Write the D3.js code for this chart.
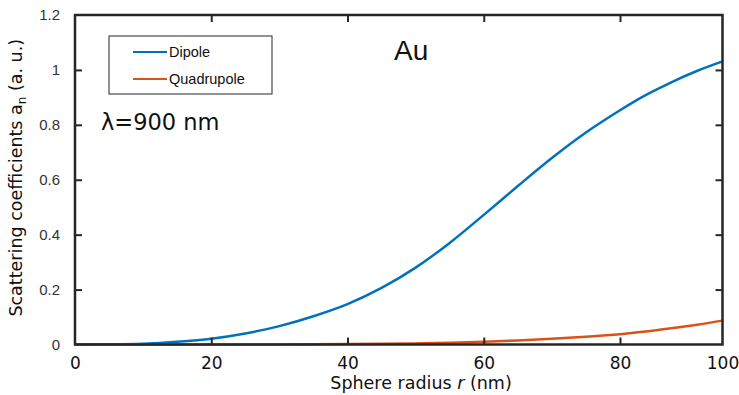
<!DOCTYPE html>
<html>
<head>
<meta charset="utf-8">
<script src="https://cdn.jsdelivr.net/npm/d3@7"></script>
<style>
  body { margin: 0; background: #fff; }
  svg { display: block; }
</style>
</head>
<body>
<script>
// chart data
const radius = [0, 5, 10, 15, 20, 25, 30, 35, 40, 45, 50, 55, 60, 65, 70, 75, 80, 85, 90, 95, 100];
const dipole = [0, 0.0005, 0.003, 0.01, 0.021, 0.04, 0.067, 0.103, 0.147, 0.206, 0.28, 0.37, 0.472, 0.577, 0.679, 0.772, 0.853, 0.908, 0.955, 0.996, 1.031];
const quadrupole = [0, 0, 0, 0, 0.0001, 0.0002, 0.0004, 0.0008, 0.0015, 0.0025, 0.004, 0.0065, 0.01, 0.015, 0.021, 0.028, 0.037, 0.047, 0.059, 0.072, 0.087];
const seriesNames = ['Dipole', 'Quadrupole'];
const seriesColors = ['#0072BD', '#D95319'];
const xTicks = [0, 20, 40, 60, 80, 100];
const yTicks = [0, 0.2, 0.4, 0.6, 0.8, 1, 1.2];

const W = 739, H = 395;
const margin = { left: 75, right: 16.5, top: 15, bottom: 50.5 };
const innerW = W - margin.left - margin.right;
const innerH = H - margin.top - margin.bottom;
const AXIS = '#262626';

const svg = d3.select('body').append('svg')
  .attr('width', W)
  .attr('height', H);

const g = svg.append('g')
  .attr('transform', `translate(${margin.left},${margin.top})`);

// the original axis is squeezed between 80 and 100
const x = d3.scaleLinear()
  .domain([0, 80, 100])
  .range([0, innerW * 545 / 647.5, innerW]);

const y = d3.scaleLinear()
  .domain([0, 1.2])
  .range([innerH, 0]);

// curves
const line = d3.line()
  .x(d => x(d[0]))
  .y(d => y(d[1]))
  .curve(d3.curveCatmullRom.alpha(0.5));

[dipole, quadrupole].forEach((vals, i) => {
  g.append('path')
    .datum(radius.map((r, k) => [r, vals[k]]))
    .attr('fill', 'none')
    .attr('stroke', seriesColors[i])
    .attr('stroke-width', 2.5)
    .attr('d', line);
});

// axes: ticks point inward on every side
const tickLen = 7;
const inner = xTicks.slice(1, -1);

g.append('g')
  .attr('transform', `translate(0,${innerH})`)
  .call(d3.axisBottom(x).tickValues(xTicks).tickSize(0).tickPadding(12).tickFormat(d3.format('d')))
  .call(a => a.select('.domain').remove())
  .call(a => a.selectAll('text')
    .attr('fill', '#111')
    .style('font-family', 'DejaVu Sans')
    .style('font-size', '17px'));

g.append('g')
  .attr('transform', `translate(0,${innerH})`)
  .call(d3.axisTop(x).tickValues(inner).tickSize(tickLen).tickFormat(''))
  .call(a => a.select('.domain').remove());
g.append('g')
  .call(d3.axisBottom(x).tickValues(inner).tickSize(tickLen).tickFormat(''))
  .call(a => a.select('.domain').remove());

g.append('g')
  .call(d3.axisLeft(y).tickValues(yTicks).tickSize(0).tickPadding(15).tickFormat(d => d))
  .call(a => a.select('.domain').remove())
  .call(a => a.selectAll('text')
    .attr('fill', '#333')
    .style('font-family', 'Liberation Sans')
    .style('font-size', '15px'));

g.append('g')
  .call(d3.axisRight(y).tickValues(yTicks.slice(1, -1)).tickSize(tickLen).tickFormat(''))
  .call(a => a.select('.domain').remove());
g.append('g')
  .attr('transform', `translate(${innerW},0)`)
  .call(d3.axisLeft(y).tickValues(yTicks.slice(1, -1)).tickSize(tickLen).tickFormat(''))
  .call(a => a.select('.domain').remove());

g.selectAll('.tick line').attr('stroke', AXIS).attr('stroke-width', 2);

// frame
g.append('rect')
  .attr('width', innerW)
  .attr('height', innerH)
  .attr('fill', 'none')
  .attr('stroke', AXIS)
  .attr('stroke-width', 2.5);

// axis titles
svg.append('text')
  .attr('x', 421)
  .attr('y', 389)
  .attr('text-anchor', 'middle')
  .style('font-family', 'DejaVu Sans')
  .style('font-size', '17.5px')
  .attr('fill', '#111')
  .call(t => {
    t.append('tspan').text('Sphere radius ');
    t.append('tspan').attr('font-style', 'italic').text('r');
    t.append('tspan').text(' (nm)');
  });

const yTitle = svg.append('text')
  .attr('transform', `translate(22,${margin.top + innerH / 2 - 2}) rotate(-90)`)
  .attr('text-anchor', 'middle')
  .style('font-family', 'DejaVu Sans')
  .style('font-size', '17.5px')
  .attr('fill', '#111');
yTitle.append('tspan').text('Scattering coefficients a');
yTitle.append('tspan').attr('dy', 4).style('font-size', '12px').text('n');
yTitle.append('tspan').attr('dy', -4).text(' (a. u.)');

// annotations
svg.append('text')
  .attr('x', 394)
  .attr('y', 60)
  .style('font-family', 'Liberation Sans')
  .style('font-size', '28px')
  .attr('fill', '#111')
  .text('Au');

svg.append('text')
  .attr('x', 101)
  .attr('y', 130)
  .style('font-family', 'DejaVu Sans')
  .style('font-size', '22.5px')
  .attr('fill', '#111')
  .text('λ=900 nm');

// legend
const legend = svg.append('g').attr('transform', 'translate(109,36)');
legend.append('rect')
  .attr('width', 163)
  .attr('height', 58)
  .attr('fill', '#fff')
  .attr('stroke', AXIS)
  .attr('stroke-width', 1);

seriesNames.forEach((name, i) => {
  const row = legend.append('g').attr('transform', `translate(0,${16 + i * 27})`);
  row.append('line')
    .attr('x1', 24).attr('x2', 58)
    .attr('stroke', seriesColors[i])
    .attr('stroke-width', 2);
  row.append('text')
    .attr('x', 60)
    .attr('y', 5)
    .style('font-family', 'Liberation Sans')
    .style('font-size', '14.5px')
    .attr('fill', '#111')
    .text(name);
});
</script>
</body>
</html>
